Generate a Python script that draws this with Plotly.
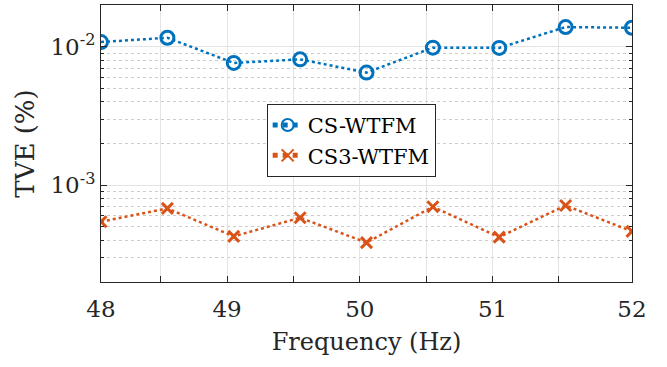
import plotly.graph_objects as go

freq = [48.0, 48.5, 49.0, 49.5, 50.0, 50.5, 51.0, 51.5, 52.0]
cs_wtfm = [0.0108, 0.0116, 0.00763, 0.0081, 0.0065, 0.00984, 0.0098, 0.01386, 0.0137]
cs3_wtfm = [5.45e-4, 6.8e-4, 4.27e-4, 5.82e-4, 3.85e-4, 6.99e-4, 4.22e-4, 7.14e-4, 4.64e-4]

x_tickvals = [48, 48.95, 49.95, 50.95, 52]
x_ticktext = ["48", "49", "50", "51", "52"]
x_minor = [48.45, 49.45, 50.45, 51.45]
y_tickvals = [1e-3, 1e-2]
y_ticktext = ["10<sup>-3</sup>", "10<sup>-2</sup>"]
y_minor = [2e-4, 3e-4, 4e-4, 5e-4, 6e-4, 7e-4, 8e-4, 9e-4,
           2e-3, 3e-3, 4e-3, 5e-3, 6e-3, 7e-3, 8e-3, 9e-3, 2e-2]

BLUE = "#0072BD"
ORANGE = "#D95319"
FONT = "DejaVu Serif"
TXT = "#262626"
GRID = "#e3e3e3"

fig = go.Figure()
fig.add_trace(go.Scatter(
    x=freq, y=cs_wtfm, name="CS-WTFM", mode="lines+markers",
    line=dict(color=BLUE, width=2.5, dash="dot"),
    marker=dict(symbol="circle-open", size=13, color=BLUE, line=dict(width=3, color=BLUE)),
))
fig.add_trace(go.Scatter(
    x=freq, y=cs3_wtfm, name="CS3-WTFM", mode="lines+markers",
    line=dict(color=ORANGE, width=2.5, dash="dot"),
    marker=dict(symbol="x-thin-open", size=11, color=ORANGE, line=dict(width=3, color=ORANGE)),
))

axis_common = dict(
    showline=True, linecolor=TXT, linewidth=1, mirror="ticks",
    ticks="inside", ticklen=6, tickcolor=TXT,
    showgrid=True, gridcolor=GRID, gridwidth=1, zeroline=False,
    tickfont=dict(family=FONT, size=23, color=TXT),
    automargin=False,
)

fig.update_layout(
    width=667, height=367,
    margin=dict(l=101, r=35, t=5, b=85),
    paper_bgcolor="white", plot_bgcolor="white",
    font=dict(family=FONT, color=TXT),
    xaxis=dict(
        range=[48, 52], tickvals=x_tickvals, ticktext=x_ticktext,
        ticklabelstandoff=6,
        minor=dict(tickvals=x_minor, showgrid=True, gridcolor=GRID, gridwidth=1,
                   ticks="inside", ticklen=6, tickcolor=TXT),
        title=dict(text="Frequency (Hz)", font=dict(family=FONT, size=24, color=TXT), standoff=12),
        **axis_common,
    ),
    yaxis=dict(
        type="log", range=[-3.699, -1.699],
        tickvals=y_tickvals, ticktext=y_ticktext,
        title=dict(text="TVE (%)", font=dict(family=FONT, size=26, color=TXT), standoff=8),
        minor=dict(tickvals=y_minor, showgrid=True, griddash="dot", gridcolor="#cccccc",
                   ticks="inside", ticklen=3, tickcolor=TXT),
        **axis_common,
    ),
    legend=dict(
        x=0.312, y=0.643, xanchor="left", yanchor="top",
        bgcolor="white", bordercolor=TXT, borderwidth=1,
        font=dict(family=FONT, size=21, color="black"),
        tracegroupgap=0, itemsizing="constant",
    ),
    showlegend=True,
)

fig.write_html("out.html", config={"displayModeBar": False},
               post_script="document.body.style.margin='0';")
